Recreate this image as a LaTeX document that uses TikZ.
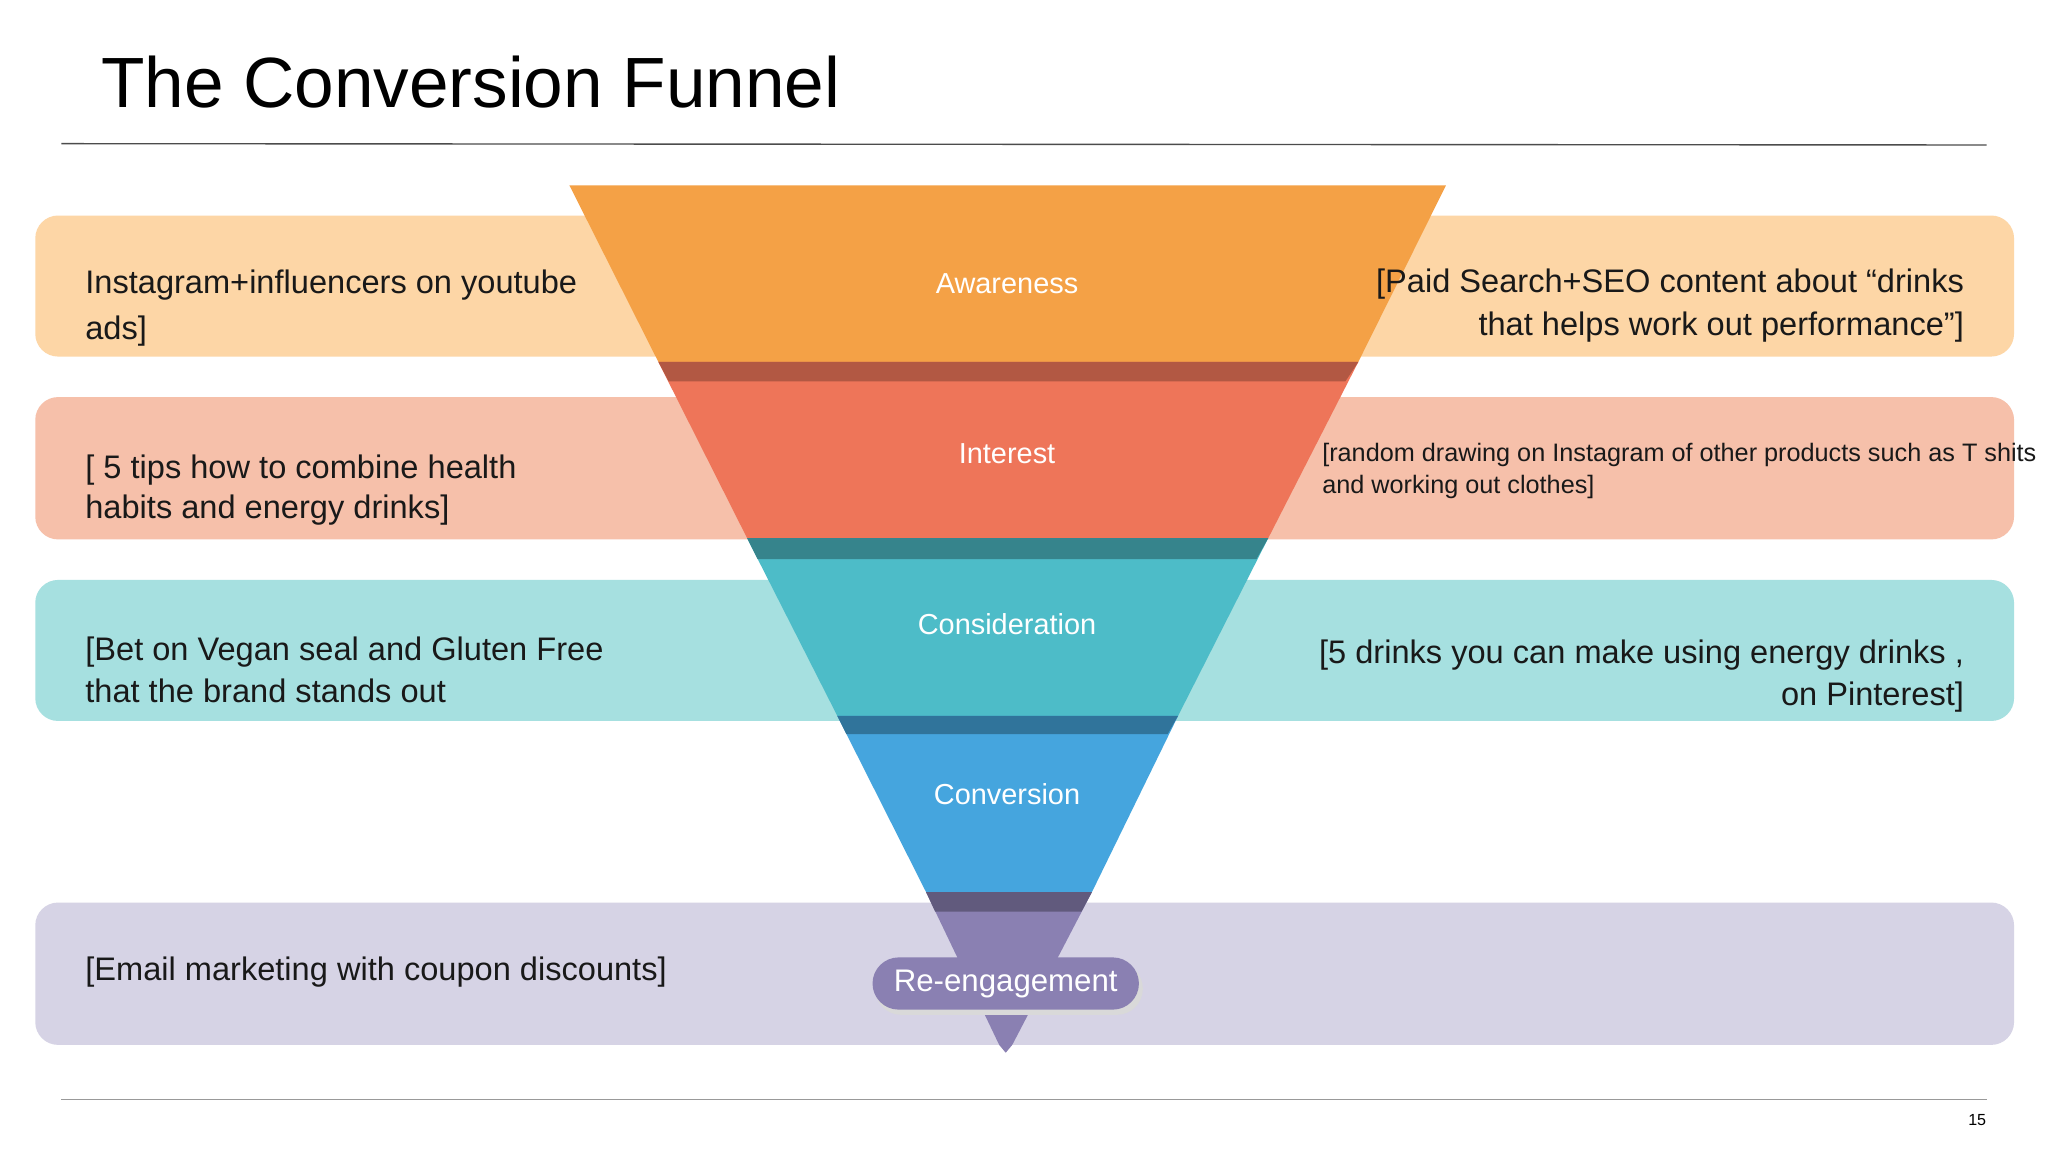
\documentclass[tikz,border=0pt]{standalone}
\usepackage{fontspec}
\setmainfont{Liberation Sans}
\begin{document}
\begin{tikzpicture}[x=0.02cm,y=-0.02cm,
  band/.style={rounded corners=0.35cm},
  lt/.style={font=\fontsize{14.2}{17}\selectfont, inner sep=0pt, text=black!90},
  fl/.style={font=\fontsize{12.6}{15}\selectfont, text=white, inner sep=0pt},
  seg/.style={draw=none}]
\useasboundingbox (0,0) rectangle (1568,882);
\fill[white] (0,0) rectangle (1568,882);
\definecolor{b1}{HTML}{FDD6A6}\definecolor{b2}{HTML}{F6C0AA}
\definecolor{b3}{HTML}{A6E0E0}\definecolor{b4}{HTML}{D6D3E5}
\definecolor{f1}{HTML}{F4A146}\definecolor{f2}{HTML}{EE7559}
\definecolor{f3}{HTML}{4DBCC8}\definecolor{f4}{HTML}{45A5DE}
\definecolor{f5}{HTML}{8A80B2}
% title and rules
\node[anchor=base west, inner sep=0pt, font=\fontsize{31}{36}\selectfont] (title) at (77,82) {The Conversion Funnel};
\draw[black!70, line width=0.6pt] (47,110) -- (1521,111);
\draw[black!40, line width=0.6pt] (47,842) -- (1521,842);
\node[anchor=base east, inner sep=0pt, font=\fontsize{7}{8}\selectfont] (pg) at (1521,862) {15};
% bands
\fill[band,b1] (27,165) rectangle (1542,273);
\fill[band,b2] (27,304) rectangle (1542,413);
\fill[band,b3] (27,444) rectangle (1542,552);
\fill[band,b4] (27,691) rectangle (1542,800);
% funnel segments
\fill[f1] (436,142) -- (1107,142) -- (1040,277) -- (504,277) -- cycle;
\fill[f2] (504,277) -- (1040,277) -- (971,412) -- (572,412) -- cycle;
\fill[f2!75!black] (504,277) -- (1040,277) -- (1030,292) -- (512,292) -- cycle;
\fill[f3] (572,412) -- (971,412) -- (902,548) -- (641,548) -- cycle;
\fill[f3!70!black] (572,412) -- (971,412) -- (962,428) -- (580,428) -- cycle;
\fill[f4] (641,548) -- (902,548) -- (836,683) -- (709,683) -- cycle;
\fill[f4!70!black] (641,548) -- (902,548) -- (894,562) -- (648,562) -- cycle;
\fill[f5] (709,683) -- (836,683) -- (775,800) -- (770,806) -- (765,800) -- cycle;
\fill[f5!70!black] (709,683) -- (836,683) -- (828,698) -- (716,698) -- cycle;
% funnel labels
\node[fl] (aw) at (771,217) {Awareness};
\node[fl] (in) at (771,347) {Interest};
\node[fl] (co) at (771,478) {Consideration};
\node[fl] (cv) at (771,608) {Conversion};
\fill[black!15, rounded corners=0.4cm] (670,737) rectangle (875,777);
\node[fill=f5, rounded corners=0.4cm, minimum width=4.08cm, minimum height=0.8cm, inner sep=0pt,
  text=white, font=\fontsize{13.6}{16}\selectfont] (re) at (770,753) {Re-engagement};
% band texts
\node[lt, anchor=base west] (l1a) at (65,225) {Instagram+influencers on youtube};
\node[lt, anchor=base west] (l1b) at (65,260) {ads]};
\node[lt, anchor=base east] (r1a) at (1504,224) {[Paid Search+SEO content about “drinks};
\node[lt, anchor=base east] (r1b) at (1504,257) {that helps work out performance”]};
\node[lt, anchor=base west] (l2a) at (65,366) {[ 5 tips how to combine health};
\node[lt, anchor=base west] (l2b) at (65,397) {habits and energy drinks]};
\node[lt, anchor=base west, font=\fontsize{11}{13}\selectfont] (r2a) at (1012,353) {[random drawing on Instagram of other products such as T shits};
\node[lt, anchor=base west, font=\fontsize{11}{13}\selectfont] (r2b) at (1012,378) {and working out clothes]};
\node[lt, anchor=base west] (l3a) at (65,506) {[Bet on Vegan seal and Gluten Free};
\node[lt, anchor=base west] (l3b) at (65,538) {that the brand stands out};
\node[lt, anchor=base east] (r3a) at (1504,508) {[5 drinks you can make using energy drinks ,};
\node[lt, anchor=base east] (r3b) at (1504,540) {on Pinterest]};
\node[lt, anchor=base west] (l4) at (65,751) {[Email marketing with coupon discounts]};
\end{tikzpicture}
\end{document}
